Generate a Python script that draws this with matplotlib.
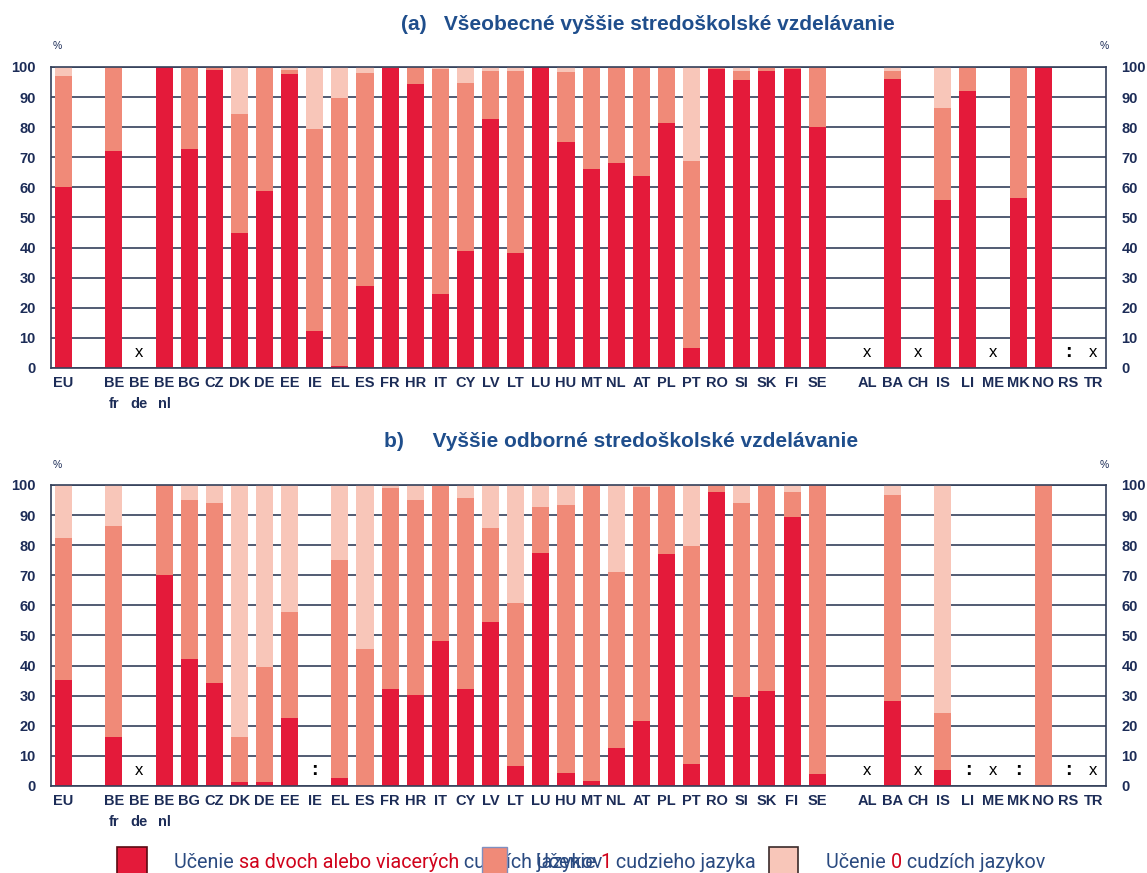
import numpy as np
import matplotlib
matplotlib.use('Agg')
import matplotlib.pyplot as plt
from matplotlib.patches import Rectangle

plt.rcParams['font.family'] = ['Liberation Sans', 'DejaVu Sans']

nan = np.nan

# categories, in three groups separated by an empty slot
eu_cats = ['EU']
member_cats = ['BE\nfr', 'BE\nde', 'BE\nnl', 'BG', 'CZ', 'DK', 'DE', 'EE', 'IE', 'EL',
               'ES', 'FR', 'HR', 'IT', 'CY', 'LV', 'LT', 'LU', 'HU', 'MT', 'NL', 'AT',
               'PL', 'PT', 'RO', 'SI', 'SK', 'FI', 'SE']
other_cats = ['AL', 'BA', 'CH', 'IS', 'LI', 'ME', 'MK', 'NO', 'RS', 'TR']

# (a) general upper secondary, shares in %
a_two = [60, 72, nan, 100, 72.6, 99.1, 45, 58.7, 97.6, 12.2, 0.7, 27.2, 99.8, 94.4, 24.7,
         38.8, 82.8, 38.1, 100, 75, 66.1, 68, 63.7, 81.5, 6.8, 99.3, 95.8, 98.6, 99.3, 80,
         nan, 95.9, nan, 55.9, 92.1, nan, 56.5, 100, nan, nan]
a_one = [37, 28, nan, 0, 27, 0.9, 39.5, 41.3, 1.3, 67.1, 89.1, 70.8, 0.2, 5.6, 74.7,
         55.8, 16, 60.6, 0, 23.4, 33.9, 32, 36.3, 18.5, 62.1, 0.7, 3, 1.4, 0.5, 20,
         nan, 2.9, nan, 30.3, 7.9, nan, 43.5, 0, nan, nan]
a_zero = [3, 0, nan, 0, 0.4, 0, 15.5, 0, 1.1, 20.7, 10.2, 2, 0, 0, 0.6,
          5.4, 1.2, 1.3, 0, 1.6, 0, 0, 0, 0, 31.1, 0, 1.2, 0, 0.2, 0,
          nan, 1.2, nan, 13.8, 0, nan, 0, 0, nan, nan]
a_notes = {'BE\nde': 'x', 'AL': 'x', 'CH': 'x', 'ME': 'x', 'RS': ':', 'TR': 'x'}

# (b) vocational upper secondary, shares in %
b_two = [35.1, 16.1, nan, 70, 42.1, 34.1, 1.4, 1.4, 22.7, nan, 2.8, 0, 32.1, 30.1, 48.2,
         32.3, 54.6, 6.6, 77.5, 4.4, 1.7, 12.5, 21.6, 77, 7.2, 97.7, 29.6, 31.6, 89.5, 3.9,
         nan, 28.2, nan, 5.2, nan, nan, nan, 0, nan, nan]
b_one = [47.2, 70.3, nan, 30, 53, 60, 14.7, 38.2, 35.2, nan, 72.3, 45.4, 67, 64.8, 51.5,
         63.5, 31.2, 54.3, 15.3, 88.8, 98.3, 58.6, 77.7, 23, 72.5, 2.3, 64.5, 68.1, 8, 96.1,
         nan, 68.4, nan, 19.2, nan, nan, nan, 100, nan, nan]
b_zero = [17.7, 13.6, nan, 0, 4.9, 5.9, 83.9, 60.4, 42.1, nan, 24.9, 54.6, 0.9, 5.1, 0.3,
          4.2, 14.2, 39.1, 7.2, 6.8, 0, 28.9, 0.7, 0, 20.3, 0, 5.9, 0.3, 2.5, 0,
          nan, 3.4, nan, 75.6, nan, nan, nan, 0, nan, nan]
b_notes = {'BE\nde': 'x', 'IE': ':', 'AL': 'x', 'CH': 'x', 'LI': ':', 'ME': 'x',
           'MK': ':', 'RS': ':', 'TR': 'x'}

titles = ['(a)   Všeobecné vyššie stredoškolské vzdelávanie',
          'b)     Vyššie odborné stredoškolské vzdelávanie']

RED, SALMON, PINK = '#e41a3a', '#f08a78', '#f8c6b9'
NAVY = '#1c2c57'
TITLE_BLUE = '#1f4e8c'
GRID = '#34405a'

cats, pos = [], []
x = 0
for group in [eu_cats, member_cats, other_cats]:
    for c in group:
        cats.append(c)
        pos.append(x)
        x += 1
    x += 1
pos = np.array(pos)

fig = plt.figure(figsize=(11.47, 8.73), dpi=100)
ax_a = fig.add_axes([0.0445, 0.5785, 0.9198, 0.3448])
ax_b = fig.add_axes([0.0445, 0.0997, 0.9198, 0.3448])


def draw_panel(ax, two, one, zero, notes):
    two = np.nan_to_num(np.array(two, float))
    one = np.nan_to_num(np.array(one, float))
    zero = np.nan_to_num(np.array(zero, float))
    w = 0.68
    ax.bar(pos, two, w, color=RED, zorder=2)
    ax.bar(pos, one, w, bottom=two, color=SALMON, zorder=2)
    ax.bar(pos, zero, w, bottom=two + one, color=PINK, zorder=2)
    for c, p in zip(cats, pos):
        if c in notes:
            n = notes[c]
            ax.text(p, 5, n, ha='center', va='center', color='black',
                    fontsize=14 if n == ':' else 12,
                    fontweight='bold' if n == ':' else 'normal', zorder=3)
    ax.set_xlim(-0.5, pos[-1] + 0.5)
    ax.set_ylim(0, 100)
    ax.set_yticks(np.arange(0, 101, 10))
    ax.yaxis.grid(True, color=GRID, linewidth=1.2)
    ax.set_axisbelow(True)
    ax.set_xticks(pos, cats)
    ax.tick_params(axis='x', length=0, pad=6, labelsize=10.5, labelcolor=NAVY)
    ax.tick_params(axis='y', length=0, labelsize=10.5, labelcolor=NAVY,
                   labelright=True, pad=11)
    for lab in ax.get_xticklabels():
        lab.set_fontweight('bold')
        lab.set_linespacing(1.6)
    for lab in ax.yaxis.get_majorticklabels():
        lab.set_fontweight('bold')
    for side in ['left', 'right', 'bottom', 'top']:
        ax.spines[side].set_color(GRID)
        ax.spines[side].set_linewidth(1.2)


draw_panel(ax_a, a_two, a_one, a_zero, a_notes)
draw_panel(ax_b, b_two, b_one, b_zero, b_notes)

fig.text(0.565, 0.9725, titles[0], ha='center', va='center', fontsize=15,
         fontweight='bold', color=TITLE_BLUE)
fig.text(0.5419, 0.4948, titles[1], ha='center', va='center', fontsize=15,
         fontweight='bold', color=TITLE_BLUE)

for y in (0.947, 0.4673):
    fig.text(0.0497, y, '%', ha='center', va='center', fontsize=7.5, color=NAVY)
    fig.text(0.9625, y, '%', ha='center', va='center', fontsize=7.5, color=NAVY)

# legend drawn by hand (entries overlap as in the source)
renderer = fig.canvas.get_renderer()
LEG_BLUE, LEG_RED = '#2a4a80', '#d0021b'
leg_font = dict(fontsize=14.2, family=['Roboto', 'DejaVu Sans'], va='center')


def width_of(s):
    t = fig.text(0, 0, s + '|', **leg_font)
    t2 = fig.text(0, 0, '|', **leg_font)
    w = t.get_window_extent(renderer).width - t2.get_window_extent(renderer).width
    t.remove()
    t2.remove()
    return w / fig.bbox.width


def rich_text(x0, y, parts):
    prefix = ''
    for s, c in parts:
        fig.text(x0 + width_of(prefix), y, s, color=c, **leg_font)
        prefix += s


leg_y = 0.0126
fig.add_artist(Rectangle((0.102, -0.01), 0.026, 0.0398, transform=fig.transFigure,
                         facecolor=RED, edgecolor='#5a0a12', linewidth=1.2))
rich_text(0.1517, leg_y, [('Učenie ', LEG_BLUE), ('sa dvoch alebo viacerých', LEG_RED),
                          (' cudzích jazykov', LEG_BLUE)])
fig.add_artist(Rectangle((0.420, -0.01), 0.022, 0.0398, transform=fig.transFigure,
                         facecolor=SALMON, edgecolor='#7f8fc0', linewidth=1.0, zorder=5))
rich_text(0.467, leg_y, [('Učenie ', LEG_BLUE), ('1', LEG_RED),
                         (' cudzieho jazyka', LEG_BLUE)])
fig.add_artist(Rectangle((0.6705, -0.01), 0.025, 0.0398, transform=fig.transFigure,
                         facecolor=PINK, edgecolor='#3a2a2a', linewidth=1.2))
rich_text(0.7201, leg_y, [('Učenie ', LEG_BLUE), ('0', LEG_RED),
                          (' cudzích jazykov', LEG_BLUE)])

fig.savefig('out.png', dpi=100)
